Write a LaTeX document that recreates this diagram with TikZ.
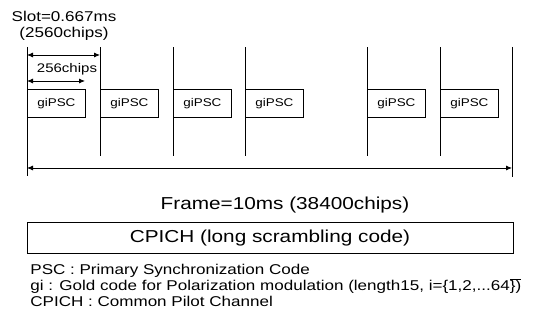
\documentclass[tikz,border=0pt]{standalone}
\usepackage{fontspec}
\setmainfont{Liberation Sans}[FakeStretch=1.2]
\usetikzlibrary{arrows.meta}

\begin{document}
\begin{tikzpicture}[x=1pt,y=-1pt,line width=0.8pt,>={Latex[length=6pt,width=5pt]},
  every node/.style={inner sep=0pt},
  psc/.style={draw,anchor=north west,minimum width=58pt,minimum height=28pt,font=\fontsize{11.2}{13}\selectfont},
  key/.style={anchor=base west,font=\fontsize{14.2}{16}\selectfont}]
\useasboundingbox (0,0) rectangle (533,320);

\node(slot) at (64,16) {\fontsize{14.2}{16}\selectfont Slot=0.667ms};
\node(chips) at (64,34) {\fontsize{14.2}{16}\selectfont (2560chips)};

\coordinate(t0) at (27,47);
\coordinate(b0) at (27,176);
\coordinate(t7) at (512,47);
\coordinate(b7) at (512,177);

\node[psc](1) at (27,89) {giPSC};
\node[psc](2) at (100,89) {giPSC};
\node[psc](3) at (173,89) {giPSC};
\node[psc](4) at (245,89) {giPSC};
\node[psc](5) at (367,89) {giPSC};
\node[psc](6) at (440,89) {giPSC};

\draw(t0)--(b0);
\draw(t7)--(b7);
\foreach \n in {2,...,6}
  \draw(\n.north west)--++(0,-42)(\n.south west)--++(0,38);

\coordinate(s0) at (27,55);
\coordinate(s1) at (100,55);
\coordinate(c0) at (27,81);
\coordinate(c1) at (85,81);
\draw[<->](s0)--(s1);
\draw[<->](c0)--(c1);
\node(short) at (67,69) {\fontsize{12.5}{14}\selectfont 256chips};

\coordinate(f0) at (27,168);
\coordinate(f1) at (512,168);
\draw[<->](f0)--(f1);
\node(frame) at (285,205) {\fontsize{17.3}{19}\selectfont Frame=10ms (38400chips)};

\node[draw,minimum width=486pt,minimum height=31pt,font=\fontsize{17.3}{19}\selectfont](cpich) at (270,238) {CPICH (long scrambling code)};

\node[key](k1) at (30,275) {PSC : Primary Synchronization Code};
\node[key](k2) at (30,291) {gi : Gold code for Polarization modulation (length15, i=\{1,2,...64$\overline{\hbox{\})}}$};
\node[key](k3) at (30,307) {CPICH : Common Pilot Channel};
\end{tikzpicture}
\end{document}
